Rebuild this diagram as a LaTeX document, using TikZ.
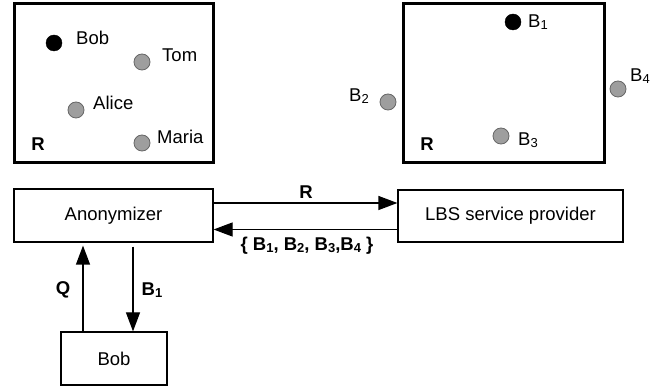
\documentclass[tikz,border=0pt]{standalone}
\usepackage{fontspec}
\setmainfont{Liberation Sans}
\usetikzlibrary{arrows.meta}
\newcommand{\sbx}[1]{{\fontsize{13}{13}\selectfont\raisebox{-1.5pt}{#1}}}
\tikzset{
  region/.style={draw=black, line width=3pt},
  box/.style={draw=black, line width=1.2pt, rectangle, inner sep=0pt, font=\fontsize{18.5}{20}\selectfont},
  blackdot/.style={circle, fill=black, draw=black, minimum size=16pt, inner sep=0pt},
  graydot/.style={circle, fill=black!38, draw=black!60, line width=0.8pt, minimum size=16pt, inner sep=0pt},
  lbl/.style={anchor=west, inner sep=0pt, font=\fontsize{18.5}{20}\selectfont},
  blbl/.style={inner sep=0pt, font=\fontsize{18.5}{20}\selectfont\bfseries},
  arr/.style={line width=1.2pt, -{Triangle[length=19pt,width=14pt]}}
}
\begin{document}
\begin{tikzpicture}[x=1pt,y=-1pt]
\useasboundingbox (0,0) rectangle (664,387);
% left region
\draw[region] (14,4) rectangle (213,163);
\node[blackdot] (dbob) at (54,43) {};
\node[lbl] (tbob) at (76,38) {Bob};
\node[graydot] (dtom) at (142,62) {};
\node[lbl] (ttom) at (162,55) {Tom};
\node[graydot] (dalice) at (76,110) {};
\node[lbl] (talice) at (93,103) {Alice};
\node[graydot] (dmaria) at (142,143) {};
\node[lbl] (tmaria) at (157,137) {Maria};
\node[blbl] (rl) at (38,144) {R};
% right region
\draw[region] (403,4) rectangle (604,163);
\node[blackdot] (db1) at (513,22) {};
\node[lbl] (tb1) at (528,22) {B\sbx{1}};
\node[graydot] (db2) at (388,102) {};
\node[lbl] (tb2) at (349,96) {B\sbx{2}};
\node[graydot] (db4) at (618,89) {};
\node[lbl] (tb4) at (630,76) {B\sbx{4}};
\node[graydot] (db3) at (501,136) {};
\node[lbl] (tb3) at (518,140) {B\sbx{3}};
\node[blbl] (rr) at (427,144) {R};
% bottom diagram
\node[box, minimum width=199pt, minimum height=53pt] (anon) at (113.5,215.5) {Anonymizer};
\node[box, minimum width=225pt, minimum height=52pt] (lbs) at (510.5,216) {LBS service provider};
\node[box, minimum width=106pt, minimum height=53pt] (bob) at (114,358.5) {Bob};
\coordinate (r1) at ([yshift=12.5pt]anon.east);
\coordinate (r2) at ([yshift=-13.5pt]lbs.west);
\draw[arr] (r1) -- (r1 -| lbs.west);
\draw[arr] (r2) -- (r2 -| anon.east);
\coordinate (q1) at ([xshift=-31pt]bob.north);
\coordinate (b1) at ([xshift=19.5pt,yshift=-4pt]anon.south);
\draw[arr] (q1) -- ([yshift=-3pt]q1 |- anon.south);
\draw[arr] (b1) -- (b1 |- bob.north);
\node[blbl] (lr) at (306,192) {R};
\node[blbl] (lset) at (307,246) {\{ B\sbx{1}, B\sbx{2}, B\sbx{3},B\sbx{4} \}};
\node[blbl] (lq) at (63,290) {Q};
\node[blbl] (lb1) at (152,290) {B\sbx{1}};
\end{tikzpicture}
\end{document}
